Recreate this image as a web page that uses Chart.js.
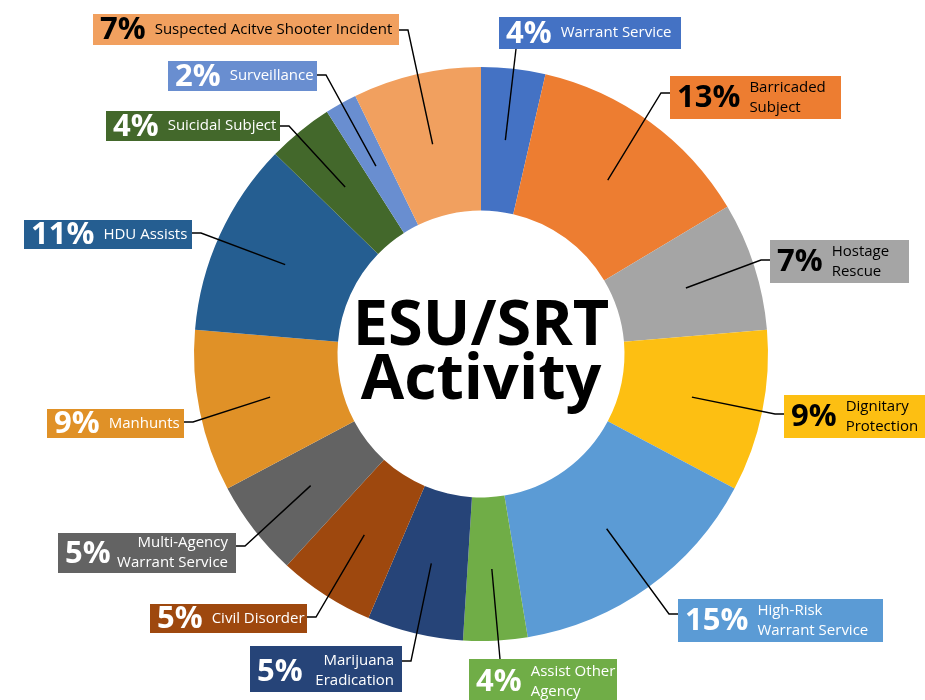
<!DOCTYPE html>
<html><head><meta charset="utf-8">
<script src="https://cdn.jsdelivr.net/npm/chart.js@4"></script>
<style>html,body{margin:0;padding:0;background:#fff}canvas{display:block}</style>
</head>
<body>
<canvas id="c" width="925" height="700"></canvas>
<script>
// ---- data ----
const categories = [
  ['Warrant Service'],
  ['Barricaded', 'Subject'],
  ['Hostage', 'Rescue'],
  ['Dignitary', 'Protection'],
  ['High-Risk', 'Warrant Service'],
  ['Assist Other', 'Agency'],
  ['Marijuana', 'Eradication'],
  ['Civil Disorder'],
  ['Multi-Agency', 'Warrant Service'],
  ['Manhunts'],
  ['HDU Assists'],
  ['Suicidal Subject'],
  ['Surveillance'],
  ['Suspected Acitve Shooter Incident']
];
// estimated shares (%)
const values = [3.6, 12.8, 7.2, 9.1, 14.6, 3.6, 5.4, 5.4, 5.4, 9.1, 10.9, 3.7, 1.8, 7.2];
const percentLabels = ['4%', '13%', '7%', '9%', '15%', '4%', '5%', '5%', '5%', '9%', '11%', '4%', '2%', '7%'];
const centerTitle = ['ESU/SRT', 'Activity'];

// ---- styles ----
const sliceColors = ['#4472C4', '#ED7D31', '#A5A5A5', '#FDBF12', '#5B9BD5', '#70AD47', '#264478',
  '#9E480E', '#636363', '#E09127', '#255E91', '#43682B', '#698ED0', '#F1A05F'];
const textColors = ['#fff', '#000', '#000', '#000', '#fff', '#fff', '#fff',
  '#fff', '#fff', '#fff', '#fff', '#fff', '#fff', '#000'];

// ---- label box layout (annotation positions) ----
const labelLayout = [
  {box: [499, 17, 182, 32], side: 'b', at: 516, align: 'left'},
  {box: [670, 76, 171, 43], side: 'l', at: 93, align: 'left'},
  {box: [770, 240, 139, 43], side: 'l', at: 260, align: 'left'},
  {box: [784, 395, 150, 43], side: 'l', at: 414, align: 'left'},
  {box: [678, 599, 205, 43], side: 'l', at: 614, align: 'left'},
  {box: [469, 659, 148, 46], side: 't', at: 500, align: 'left'},
  {box: [250, 646, 152, 46], side: 'r', at: 661, align: 'right'},
  {box: [150, 604, 157, 29], side: 'r', at: 617, align: 'left'},
  {box: [58, 533, 178, 40], side: 'r', at: 546, align: 'right'},
  {box: [47, 409, 137, 29], side: 'r', at: 422, align: 'left'},
  {box: [24, 220, 168, 29], side: 'r', at: 233, align: 'left'},
  {box: [106, 111, 174, 30], side: 'r', at: 126, align: 'left'},
  {box: [168, 61, 149, 30], side: 'r', at: 75, align: 'left'},
  {box: [93, 14, 306, 31], side: 'r', at: 30, align: 'left'}
];

const FONT = '"Open Sans", "Noto Sans", sans-serif';

const labelPlugin = {
  id: 'calloutLabels',
  afterDraw(chart) {
    const ctx = chart.ctx;
    const meta = chart.getDatasetMeta(0);
    ctx.save();
    meta.data.forEach((arc, i) => {
      const p = arc.getProps(['x', 'y', 'startAngle', 'endAngle', 'innerRadius', 'outerRadius'], true);
      const mid = (p.startAngle + p.endAngle) / 2;
      const r = (p.innerRadius + p.outerRadius) / 2;
      const px = p.x + Math.cos(mid) * r;
      const py = p.y + Math.sin(mid) * r;
      const L = labelLayout[i];
      const [bx, by, bw, bh] = L.box;
      // box
      ctx.fillStyle = sliceColors[i];
      ctx.fillRect(bx, by, bw, bh);
      // texts
      const cy = by + Math.min(bh, 700 - by) / 2 + (bh > 44 ? 2 : 0);
      ctx.fillStyle = textColors[i];
      ctx.textBaseline = 'middle';
      ctx.textAlign = 'left';
      ctx.font = 'bold 31px ' + FONT;
      const pct = percentLabels[i];
      const pctX = bx + 7;
      ctx.fillText(pct, pctX, cy + 1);
      const pw = ctx.measureText(pct).width;
      ctx.font = '15px ' + FONT;
      const lines = categories[i];
      let tx, align;
      if (L.align === 'right') { tx = bx + bw - 8; align = 'right'; }
      else { tx = pctX + pw + 9; align = 'left'; }
      ctx.textAlign = align;
      if (lines.length === 1) {
        ctx.fillText(lines[0], tx, cy);
      } else {
        ctx.fillText(lines[0], tx, cy - 10);
        ctx.fillText(lines[1], tx, cy + 10);
      }
      // leader line
      ctx.strokeStyle = '#000';
      ctx.lineWidth = 1.4;
      ctx.beginPath();
      ctx.moveTo(px, py);
      if (L.side === 'r') {
        ctx.lineTo(bx + bw + 9, L.at);
        ctx.lineTo(bx + bw, L.at);
      } else if (L.side === 'l') {
        ctx.lineTo(bx - 9, L.at);
        ctx.lineTo(bx, L.at);
      } else if (L.side === 't') {
        ctx.lineTo(L.at, by);
      } else {
        ctx.lineTo(L.at, by + bh);
      }
      ctx.stroke();
    });
    // center title
    const c = meta.data[0];
    ctx.fillStyle = '#000';
    ctx.textAlign = 'center';
    ctx.textBaseline = 'alphabetic';
    ctx.font = 'bold 63px ' + FONT;
    ctx.fillText(centerTitle[0], c.x, c.y - 9);
    ctx.fillText(centerTitle[1], c.x, c.y + 45);
    ctx.restore();
  }
};

new Chart(document.getElementById('c'), {
  type: 'doughnut',
  data: {
    labels: categories.map(l => l.join(' ')),
    datasets: [{
      data: values,
      backgroundColor: sliceColors,
      borderWidth: 0
    }]
  },
  options: {
    responsive: false,
    animation: false,
    devicePixelRatio: 1,
    cutout: '50%',
    layout: {padding: {left: 194, right: 157, top: 67, bottom: 59}},
    plugins: {legend: {display: false}, tooltip: {enabled: false}}
  },
  plugins: [labelPlugin]
});
</script>
</body></html>
